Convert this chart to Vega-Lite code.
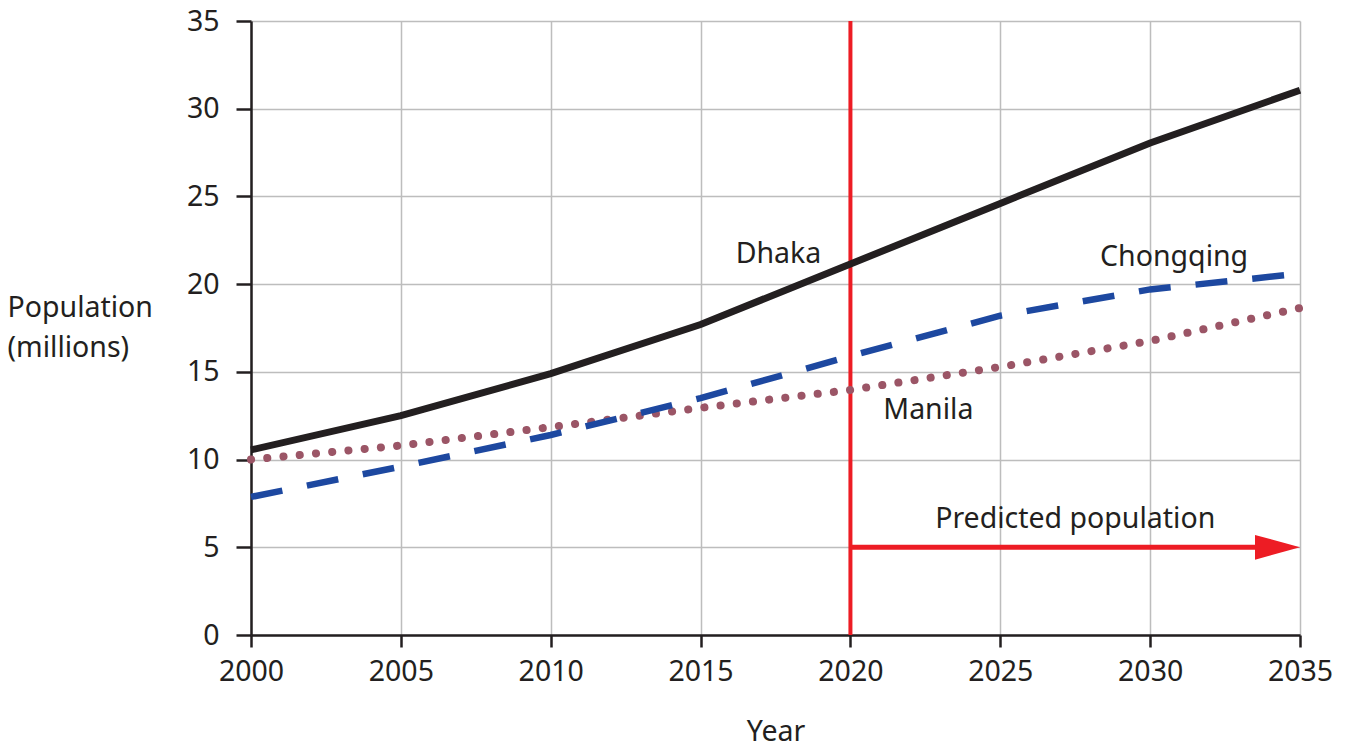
{
  "$schema": "https://vega.github.io/schema/vega-lite/v6.json",
  "width": 1049,
  "height": 614,
  "autosize": {"type": "none"},
  "padding": {"left": 251, "top": 21, "right": 51, "bottom": 116},
  "background": "white",
  "config": {
    "view": {"stroke": null},
    "font": "Noto Sans",
    "axis": {
      "labelFont": "Noto Sans",
      "titleFont": "Noto Sans",
      "labelFontSize": 28.5,
      "titleFontSize": 28.5,
      "labelColor": "#231f20",
      "titleColor": "#231f20",
      "titleFontWeight": "normal",
      "domainColor": "#231f20",
      "domainWidth": 2.5,
      "tickColor": "#231f20",
      "tickWidth": 2.5,
      "gridColor": "#bdbdbd",
      "gridWidth": 1.5,
      "gridOpacity": 1
    }
  },
  "datasets": {
    "series": [
      {"city": "Dhaka", "year": 2000, "pop": 10.55},
      {"city": "Dhaka", "year": 2005, "pop": 12.5},
      {"city": "Dhaka", "year": 2010, "pop": 14.9},
      {"city": "Dhaka", "year": 2015, "pop": 17.7},
      {"city": "Dhaka", "year": 2020, "pop": 21.15},
      {"city": "Dhaka", "year": 2025, "pop": 24.6},
      {"city": "Dhaka", "year": 2030, "pop": 28.05},
      {"city": "Dhaka", "year": 2035, "pop": 31.05},
      {"city": "Chongqing", "year": 2000, "pop": 7.87},
      {"city": "Chongqing", "year": 2005, "pop": 9.6},
      {"city": "Chongqing", "year": 2010, "pop": 11.4},
      {"city": "Chongqing", "year": 2015, "pop": 13.5},
      {"city": "Chongqing", "year": 2020, "pop": 15.9},
      {"city": "Chongqing", "year": 2025, "pop": 18.2},
      {"city": "Chongqing", "year": 2030, "pop": 19.7},
      {"city": "Chongqing", "year": 2035, "pop": 20.6},
      {"city": "Manila", "year": 2000, "pop": 10.0},
      {"city": "Manila", "year": 2005, "pop": 10.8},
      {"city": "Manila", "year": 2010, "pop": 11.85},
      {"city": "Manila", "year": 2015, "pop": 12.95},
      {"city": "Manila", "year": 2020, "pop": 13.97},
      {"city": "Manila", "year": 2025, "pop": 15.28},
      {"city": "Manila", "year": 2030, "pop": 16.76},
      {"city": "Manila", "year": 2035, "pop": 18.64}
    ],
    "labels": [
      {"year": 2017.6, "pop": 21.7, "label": "Dhaka"},
      {"year": 2030.8, "pop": 21.55, "label": "Chongqing"},
      {"year": 2022.6, "pop": 12.8, "label": "Manila"},
      {"year": 2027.5, "pop": 6.6, "label": "Predicted population"}
    ],
    "divider": [{"year": 2020, "pop": 0, "pop2": 35}],
    "arrow": [{"year": 2020, "year2": 2034, "pop": 5}],
    "head": [{"year": 2035, "pop": 5}]
  },
  "layer": [
    {
      "data": {"name": "divider"},
      "mark": {"type": "rule", "color": "#ed1c24", "strokeWidth": 4},
      "encoding": {
        "x": {
          "field": "year", "type": "quantitative",
          "scale": {"domain": [2000, 2035], "nice": false, "zero": false},
          "axis": {
            "values": [2000, 2005, 2010, 2015, 2020, 2025, 2030, 2035],
            "format": "d",
            "tickSize": 12,
            "labelPadding": 10,
            "title": "Year",
            "titleY": 105,
            "titleBaseline": "alphabetic",
            "labelFlush": false,
            "grid": true
          }
        },
        "y": {
          "field": "pop", "type": "quantitative",
          "scale": {"domain": [0, 35], "nice": false},
          "axis": {
            "values": [0, 5, 10, 15, 20, 25, 30, 35],
            "tickSize": 15,
            "labelPadding": 17,
            "title": ["Population", "(millions)"],
            "titleAngle": 0,
            "titleAlign": "left",
            "titleBaseline": "middle",
            "titleX": -244,
            "titleY": 286,
            "titleLineHeight": 40,
            "grid": true
          }
        },
        "y2": {"field": "pop2"}
      }
    },
    {
      "data": {"name": "arrow"},
      "mark": {"type": "rule", "color": "#ed1c24", "strokeWidth": 5},
      "encoding": {
        "x": {"field": "year", "type": "quantitative"},
        "x2": {"field": "year2"},
        "y": {"field": "pop", "type": "quantitative"}
      }
    },
    {
      "data": {"name": "head"},
      "mark": {
        "type": "point",
        "shape": "M -2 -0.55 L 0 0 L -2 0.55 Z",
        "size": 2025,
        "filled": true,
        "color": "#ed1c24",
        "opacity": 1,
        "strokeWidth": 0
      },
      "encoding": {
        "x": {"field": "year", "type": "quantitative"},
        "y": {"field": "pop", "type": "quantitative"}
      }
    },
    {
      "data": {"name": "series"},
      "transform": [{"filter": "datum.city === 'Manila'"}],
      "mark": {"type": "line", "color": "#9b5566", "strokeWidth": 8, "strokeDash": [0.1, 16.2], "strokeCap": "round"},
      "encoding": {
        "x": {"field": "year", "type": "quantitative"},
        "y": {"field": "pop", "type": "quantitative"}
      }
    },
    {
      "data": {"name": "series"},
      "transform": [{"filter": "datum.city === 'Chongqing'"}],
      "mark": {"type": "line", "color": "#1d48a0", "strokeWidth": 6.5, "strokeDash": [32, 25], "strokeCap": "butt"},
      "encoding": {
        "x": {"field": "year", "type": "quantitative"},
        "y": {"field": "pop", "type": "quantitative"}
      }
    },
    {
      "data": {"name": "series"},
      "transform": [{"filter": "datum.city === 'Dhaka'"}],
      "mark": {"type": "line", "color": "#231f20", "strokeWidth": 7},
      "encoding": {
        "x": {"field": "year", "type": "quantitative"},
        "y": {"field": "pop", "type": "quantitative"}
      }
    },
    {
      "data": {"name": "labels"},
      "mark": {"type": "text", "fontSize": 28.5, "font": "Noto Sans", "color": "#231f20", "align": "center", "baseline": "middle"},
      "encoding": {
        "x": {"field": "year", "type": "quantitative"},
        "y": {"field": "pop", "type": "quantitative"},
        "text": {"field": "label"}
      }
    }
  ]
}
